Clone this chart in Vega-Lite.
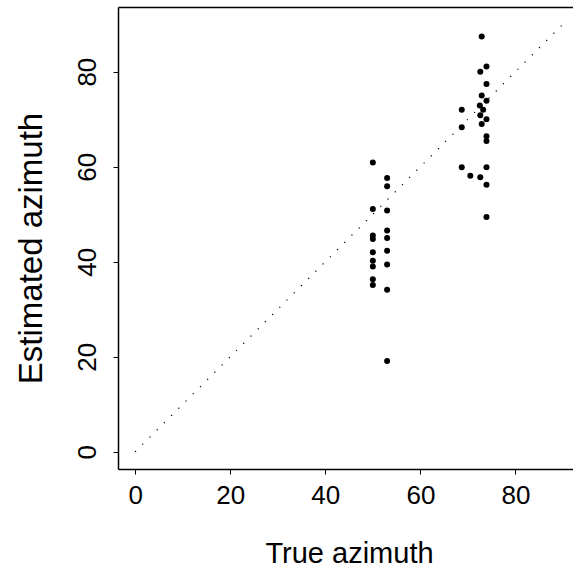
{
  "$schema": "https://vega.github.io/schema/vega-lite/v6.json",
  "autosize": {"type": "none"},
  "width": 455,
  "height": 462,
  "padding": {"left": 118, "top": 7, "right": 0, "bottom": 112},
  "background": "white",
  "config": {
    "view": {"stroke": null},
    "font": "Liberation Sans",
    "axis": {"grid": false, "domainColor": "black", "domainWidth": 1.5, "tickColor": "black", "tickWidth": 1, "tickSize": 5, "labelColor": "black", "titleColor": "black", "labelFont": "Liberation Sans", "titleFont": "Liberation Sans", "labelFontSize": 26, "titleFontSize": 29, "titleFontWeight": "normal", "labelFlush": false, "labelOverlap": false}
  },
  "datasets": {
    "points": [
      {"true_az": 50, "est_az": 60.9}, {"true_az": 50, "est_az": 51.1}, {"true_az": 50, "est_az": 45.5}, {"true_az": 50, "est_az": 44.8}, {"true_az": 50, "est_az": 42.0}, {"true_az": 50, "est_az": 40.2}, {"true_az": 50, "est_az": 39.0}, {"true_az": 50, "est_az": 36.3}, {"true_az": 50, "est_az": 35.1},
      {"true_az": 53, "est_az": 57.6}, {"true_az": 53, "est_az": 55.9}, {"true_az": 53, "est_az": 50.8}, {"true_az": 53, "est_az": 46.6}, {"true_az": 53, "est_az": 45.0}, {"true_az": 53, "est_az": 42.3}, {"true_az": 53, "est_az": 39.4}, {"true_az": 53, "est_az": 34.1}, {"true_az": 53, "est_az": 19.1},
      {"true_az": 72.9, "est_az": 87.4}, {"true_az": 73.9, "est_az": 81.1}, {"true_az": 72.6, "est_az": 80.0}, {"true_az": 73.9, "est_az": 77.4}, {"true_az": 72.9, "est_az": 75.0}, {"true_az": 73.9, "est_az": 73.9}, {"true_az": 72.5, "est_az": 72.9}, {"true_az": 73.2, "est_az": 72.0}, {"true_az": 72.6, "est_az": 70.8}, {"true_az": 73.9, "est_az": 70.0}, {"true_az": 72.9, "est_az": 69.0}, {"true_az": 68.7, "est_az": 72.0}, {"true_az": 68.7, "est_az": 68.3}, {"true_az": 73.9, "est_az": 66.4}, {"true_az": 73.9, "est_az": 65.4}, {"true_az": 68.7, "est_az": 59.9}, {"true_az": 73.9, "est_az": 59.9}, {"true_az": 70.5, "est_az": 58.1}, {"true_az": 72.6, "est_az": 57.8}, {"true_az": 73.9, "est_az": 56.2}, {"true_az": 73.9, "est_az": 49.4}
    ],
    "identity": [{"true_az": 0, "est_az": 0}, {"true_az": 90, "est_az": 90}]
  },
  "resolve": {"axis": {"x": "independent"}},
  "layer": [
    {
      "data": {"name": "identity"},
      "mark": {"type": "line", "color": "black", "strokeWidth": 1.2, "strokeDash": [1.2, 9]},
      "encoding": {
        "x": {"field": "true_az", "type": "quantitative", "scale": {"domain": [-3.6, 92.1], "nice": false, "zero": false}, "axis": {"orient": "top", "ticks": false, "labels": false, "title": null, "domain": true}},
        "y": {"field": "est_az", "type": "quantitative", "scale": {"domain": [-3.6, 93.6], "nice": false, "zero": false}, "axis": {"values": [0, 20, 40, 60, 80], "title": "Estimated azimuth", "titleFontSize": 33, "labelAngle": -90, "labelAlign": "center", "labelBaseline": "middle", "labelPadding": 25.5, "titleAngle": -90, "titleX": -87, "titleY": 241, "titleAlign": "center", "titleBaseline": "middle"}}
      }
    },
    {
      "data": {"name": "points"},
      "mark": {"type": "circle", "color": "black", "opacity": 1, "size": 36},
      "encoding": {
        "x": {"field": "true_az", "type": "quantitative", "axis": {"orient": "bottom", "values": [0, 20, 40, 60, 80], "title": "True azimuth", "labelAlign": "center", "labelBaseline": "middle", "labelPadding": 21, "titleX": 231, "titleY": 84, "titleAlign": "center", "titleBaseline": "middle"}},
        "y": {"field": "est_az", "type": "quantitative"}
      }
    }
  ]
}
